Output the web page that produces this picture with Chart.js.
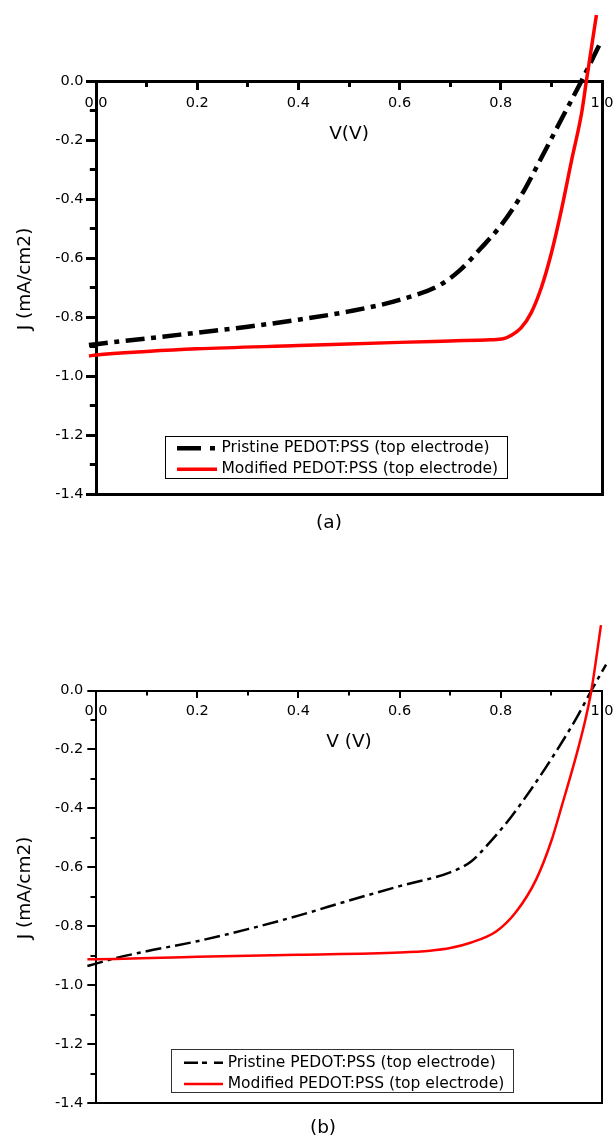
<!DOCTYPE html>
<html>
<head>
<meta charset="utf-8">
<script src="https://cdn.jsdelivr.net/npm/chart.js@4.4.1/dist/chart.umd.min.js"></script>
<style>
  html, body { margin: 0; padding: 0; background: #fff; }
  #wrap { position: relative; width: 613px; height: 1137px; overflow: hidden; }
  canvas { position: absolute; left: 0; }
  #chartA { top: 0; }
  #chartB { top: 560px; }
</style>
</head>
<body>
<div id="wrap">
  <canvas id="chartA" width="613" height="545"></canvas>
  <canvas id="chartB" width="613" height="577"></canvas>
</div>
<script>
// ---- J–V curves, panel (a) ----
const voltsPristineA   = [-0.014, 0.0, 0.1, 0.2, 0.3, 0.4, 0.5, 0.6, 0.68, 0.72, 0.76, 0.8, 0.84, 0.88, 0.92, 0.96, 1.0, 1.013];
const currentPristineA = [-0.894, -0.891, -0.872, -0.852, -0.832, -0.808, -0.780, -0.741, -0.690, -0.639, -0.567, -0.489, -0.388, -0.260, -0.128, 0.003, 0.141, 0.185];
const voltsModifiedA   = [-0.014, 0.0, 0.1, 0.2, 0.4, 0.6, 0.7, 0.78, 0.805, 0.82, 0.84, 0.86, 0.88, 0.90, 0.92, 0.94, 0.96, 0.969, 0.989];
const currentModifiedA = [-0.931, -0.928, -0.916, -0.907, -0.896, -0.885, -0.880, -0.876, -0.873, -0.862, -0.836, -0.785, -0.700, -0.582, -0.434, -0.267, -0.105, 0.0, 0.225];

// ---- J–V curves, panel (b) ----
const voltsPristineB   = [-0.017, 0.0, 0.03, 0.1, 0.2, 0.3, 0.4, 0.5, 0.6, 0.7, 0.74, 0.78, 0.82, 0.86, 0.9, 0.95, 0.979, 1.008];
const currentPristineB = [-0.935, -0.927, -0.912, -0.885, -0.851, -0.810, -0.764, -0.713, -0.664, -0.617, -0.582, -0.512, -0.430, -0.335, -0.232, -0.092, 0.0, 0.088];
const voltsModifiedB   = [-0.017, 0.0, 0.2, 0.4, 0.6, 0.66, 0.7, 0.74, 0.79, 0.83, 0.87, 0.9, 0.92, 0.95, 0.967, 0.979, 0.998];
const currentModifiedB = [-0.912, -0.912, -0.904, -0.897, -0.889, -0.883, -0.874, -0.856, -0.819, -0.752, -0.641, -0.510, -0.395, -0.215, -0.100, 0.0, 0.222];

// ---- axis ticks ----
const vTicks      = [0.0, 0.2, 0.4, 0.6, 0.8, 1.0];
const vMinorTicks = [0.0, 0.1, 0.2, 0.3, 0.4, 0.5, 0.6, 0.7, 0.8, 0.9, 1.0];
const jTicks      = [0.0, -0.2, -0.4, -0.6, -0.8, -1.0, -1.2, -1.4];
const jMinorTicks = [0.0, -0.1, -0.2, -0.3, -0.4, -0.5, -0.6, -0.7, -0.8, -0.9, -1.0, -1.1, -1.2, -1.3, -1.4];

const seriesNames = ['Pristine PEDOT:PSS (top electrode)', 'Modified PEDOT:PSS (top electrode)'];
const yAxisTitle = 'J (mA/cm2)';

const FONT = "'DejaVu Sans', 'Liberation Sans', Arial, sans-serif";

function toPoints(xs, ys) {
  return xs.map((x, i) => ({ x: x, y: ys[i] }));
}

// Framed legend and panel caption, drawn on top of the plot.
const boxedLegend = {
  id: 'boxedLegend',
  afterDraw(chart, args, o) {
    const ctx = chart.ctx;
    ctx.save();
    ctx.lineWidth = o.frameWidth;
    ctx.strokeStyle = o.frameColor;
    ctx.strokeRect(Math.round(o.x) + 0.5, Math.round(o.y) + 0.5, o.w, o.h);
    ctx.font = o.fontSize + 'px ' + FONT;
    ctx.textBaseline = 'middle';
    ctx.textAlign = 'left';
    chart.data.datasets.forEach((ds, i) => {
      const y = o.rows[i];
      ctx.beginPath();
      ctx.setLineDash(o.sampleDash[i] || []);
      ctx.lineWidth = ds.borderWidth;
      ctx.strokeStyle = ds.borderColor;
      ctx.lineCap = 'butt';
      ctx.moveTo(o.sampleX0, y);
      ctx.lineTo(o.sampleX1, y);
      ctx.stroke();
      ctx.setLineDash([]);
      ctx.fillStyle = '#000';
      ctx.fillText(ds.label, o.textX, y);
    });
    ctx.textAlign = 'center';
    ctx.font = o.captionSize + 'px ' + FONT;
    ctx.fillStyle = '#000';
    ctx.fillText(o.caption, o.captionX, o.captionY);
    ctx.restore();
  }
};

function setTicks(list) {
  return (scale) => { scale.ticks = list.map(v => ({ value: v })); };
}

function buildScales(s) {
  const tickFont = { family: FONT, size: 14.5, lineHeight: 1.2 };
  const titleFont = { family: FONT, size: 18.5, lineHeight: 1.2 };
  const vMin = vTicks[0], vMax = vTicks[vTicks.length - 1];
  const jMin = jTicks[jTicks.length - 1], jMax = jTicks[0];
  return {
    x: {
      type: 'linear', axis: 'x', position: { y: 0 }, min: vMin, max: vMax,
      afterBuildTicks: setTicks(vTicks),
      afterFit: (sc) => { sc.paddingLeft = 0; sc.paddingRight = 0; },
      ticks: { callback: v => v.toFixed(1), color: '#000', font: tickFont, padding: s.xTickPad, maxRotation: 0, autoSkip: false },
      grid: { drawOnChartArea: false, drawTicks: true, tickLength: s.xMajorLen, tickWidth: s.tickW, tickColor: '#000', lineWidth: s.axisW, color: '#000' },
      border: { display: true, color: '#000', width: s.axisW },
      title: { display: true, text: s.xTitle, color: '#000', font: titleFont, padding: { top: s.xTitlePad, bottom: 0 } }
    },
    xMinor: {
      type: 'linear', axis: 'x', position: { y: 0 }, min: vMin, max: vMax,
      afterBuildTicks: setTicks(vMinorTicks),
      afterFit: (sc) => { sc.paddingLeft = 0; sc.paddingRight = 0; },
      ticks: { display: false },
      grid: { drawOnChartArea: false, drawTicks: true, tickLength: s.xMinorLen, tickWidth: s.tickW, tickColor: '#000', lineWidth: s.axisW, color: '#000' },
      border: { display: true, color: 'rgba(0,0,0,0)', width: s.axisW }
    },
    xFrame: {
      type: 'linear', axis: 'x', position: 'bottom', min: vMin, max: vMax,
      ticks: { display: false },
      grid: { display: false, drawTicks: false, lineWidth: s.axisW },
      border: { display: true, color: '#000', width: s.axisW }
    },
    y: {
      type: 'linear', axis: 'y', position: 'left', min: jMin, max: jMax,
      afterBuildTicks: setTicks(jTicks),
      afterFit: (sc) => { sc.width = 96; },
      ticks: { callback: v => v.toFixed(1), color: '#000', font: tickFont, padding: s.yTickPad, autoSkip: false },
      grid: { drawOnChartArea: false, drawTicks: true, tickLength: s.yMajorLen, tickWidth: s.tickW, tickColor: '#000', lineWidth: s.axisW, color: '#000' },
      border: { display: true, color: '#000', width: s.axisW },
      // leading spaces lift the rotated title a little above the axis centre
      title: { display: true, text: '   ' + yAxisTitle, color: '#000', font: titleFont, padding: { top: 14, bottom: 0 } }
    },
    yMinor: {
      type: 'linear', axis: 'y', position: { x: 0 }, min: jMin, max: jMax,
      afterBuildTicks: setTicks(jMinorTicks),
      ticks: { display: false },
      grid: { drawOnChartArea: false, drawTicks: true, tickLength: s.yMinorLen, tickWidth: s.tickW, tickColor: '#000', lineWidth: s.axisW, color: '#000' },
      border: { display: true, color: 'rgba(0,0,0,0)', width: s.axisW }
    },
    yFrame: {
      type: 'linear', axis: 'y', position: 'right', min: jMin, max: jMax,
      ticks: { display: false },
      grid: { display: false, drawTicks: false, lineWidth: s.axisW },
      border: { display: true, color: '#000', width: s.axisW }
    }
  };
}

function makePanel(canvasId, s) {
  return new Chart(document.getElementById(canvasId), {
    type: 'line',
    data: {
      datasets: [
        {
          label: seriesNames[0],
          data: toPoints(s.pristineV, s.pristineJ),
          borderColor: '#000000', borderWidth: s.pristineW, borderDash: s.pristineDash,
          pointRadius: 0, fill: false, cubicInterpolationMode: 'monotone', clip: false, order: 1,
          xAxisID: 'x', yAxisID: 'y'
        },
        {
          label: seriesNames[1],
          data: toPoints(s.modifiedV, s.modifiedJ),
          borderColor: '#ff0000', borderWidth: s.modifiedW,
          pointRadius: 0, fill: false, cubicInterpolationMode: 'monotone', clip: false, order: 0,
          xAxisID: 'x', yAxisID: 'y'
        }
      ]
    },
    options: {
      responsive: false,
      animation: false,
      devicePixelRatio: 1,
      layout: { padding: { left: 0, right: 11, top: s.padTop, bottom: s.padBottom } },
      plugins: {
        legend: { display: false },
        tooltip: { enabled: false },
        boxedLegend: s.legend
      },
      scales: buildScales(s)
    },
    plugins: [boxedLegend]
  });
}

makePanel('chartA', {
  pristineV: voltsPristineA, pristineJ: currentPristineA,
  modifiedV: voltsModifiedA, modifiedJ: currentModifiedA,
  pristineW: 4.5, modifiedW: 3.5, pristineDash: [19, 6.5, 5, 6.5],
  axisW: 3, tickW: 3,
  xMajorLen: 7, xMinorLen: 4, yMajorLen: 10, yMinorLen: 5.2,
  xTickPad: 6.3, yTickPad: 2.5, xTitlePad: 4.6,
  xTitle: 'V(V)',
  padTop: 81.3, padBottom: 50.7,
  legend: {
    x: 165, y: 436, w: 342, h: 42, frameWidth: 1, frameColor: '#000',
    rows: [448.3, 469.3], sampleX0: 177, sampleX1: 217, textX: 221.5,
    sampleDash: [[24, 9, 5, 20], []], fontSize: 15.5,
    caption: '(a)', captionX: 329, captionY: 523, captionSize: 18.5
  }
});

makePanel('chartB', {
  pristineV: voltsPristineB, pristineJ: currentPristineB,
  modifiedV: voltsModifiedB, modifiedJ: currentModifiedB,
  pristineW: 2.5, modifiedW: 2.5, pristineDash: [16, 5, 4, 5],
  axisW: 2, tickW: 2,
  xMajorLen: 6, xMinorLen: 3.5, yMajorLen: 8.7, yMinorLen: 4.5,
  xTickPad: 6.5, yTickPad: 4, xTitlePad: 4.5,
  xTitle: 'V (V)',
  padTop: 130.5, padBottom: 34,
  legend: {
    x: 171, y: 489, w: 342, h: 43, frameWidth: 1, frameColor: '#333',
    rows: [502.7, 524], sampleX0: 184, sampleX1: 223, textX: 227.7,
    sampleDash: [[14, 4, 5, 7], []], fontSize: 15.5,
    caption: '(b)', captionX: 323, captionY: 568, captionSize: 18.5
  }
});
</script>
</body>
</html>
